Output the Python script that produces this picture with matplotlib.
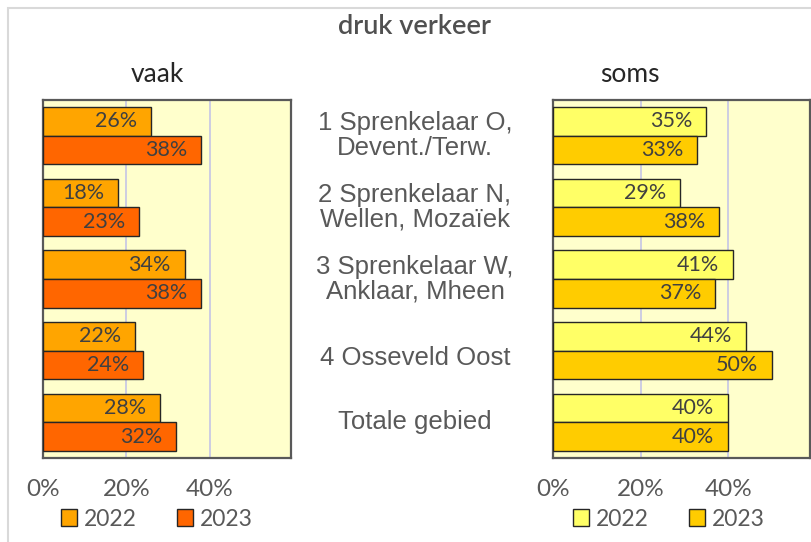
"""Druk verkeer: vaak vs soms, 2022 vs 2023, per wijk."""
import matplotlib
matplotlib.use("Agg")
import matplotlib.pyplot as plt
from matplotlib.patches import Patch, Rectangle
from matplotlib.transforms import blended_transform_factory
import numpy as np

categories = [
    "1 Sprenkelaar O,\nDevent./Terw.",
    "2 Sprenkelaar N,\nWellen, Mozaïek",
    "3 Sprenkelaar W,\nAnklaar, Mheen",
    "4 Osseveld Oost",
    "Totale gebied",
]
years = ["2022", "2023"]
vaak_2022 = [26, 18, 34, 22, 28]
vaak_2023 = [38, 23, 38, 24, 32]
soms_2022 = [35, 29, 41, 44, 40]
soms_2023 = [33, 38, 37, 50, 40]
xticks = [0, 20, 40]

W, H = 811, 542
fig = plt.figure(figsize=(W / 100, H / 100), dpi=100)
fig.patch.set_facecolor("white")

# light frame round the whole chart (right/bottom edges fall outside the crop)
fig.patches.append(Rectangle((8 / W, -0.1), 1.2, 1 - 8 / H + 0.1,
                             transform=fig.transFigure, fill=False,
                             edgecolor="#d9d9d9", linewidth=1.5))

TXT = "#595959"
ax_l = fig.add_axes([43 / W, 1 - 458 / H, 248 / W, 358 / H])
ax_r = fig.add_axes([553 / W, 1 - 458 / H, 257 / W, 358 / H])


def draw_panel(ax, v22, v23, colors, xmax):
    y = np.arange(len(categories))
    ax.set_facecolor("#ffffcc")
    for vals, off, col in [(v22, -0.2, colors[0]), (v23, 0.2, colors[1])]:
        bars = ax.barh(y + off, vals, height=0.4, color=col,
                       edgecolor="#262626", linewidth=1.0, zorder=3)
        for b, v in zip(bars, vals):
            ax.annotate(f"{v}%", (b.get_width(), b.get_y() + b.get_height() / 2),
                        xytext=(-10, 0), textcoords="offset points",
                        ha="right", va="center", fontsize=15.5,
                        family="Lato", color="#404040", zorder=4)
    ax.set_ylim(len(categories) - 0.5, -0.5)
    ax.set_xlim(0, xmax)
    ax.set_yticks([])
    ax.set_xticks(xticks)
    ax.set_xticklabels([f"{t}%" for t in xticks], family="Lato",
                       fontsize=17.5, color=TXT)
    ax.tick_params(axis="x", length=0, pad=15)
    for t in xticks[1:]:
        ax.axvline(t, color="#c9c9e4", linewidth=1.3, zorder=1)
    for s in ax.spines.values():
        s.set_color("#595959")
        s.set_linewidth(1.6)


draw_panel(ax_l, vaak_2022, vaak_2023, ["#ffa500", "#ff6600"], 59.5)
draw_panel(ax_r, soms_2022, soms_2023, ["#ffff66", "#ffcc00"], 58.7)

# category labels in the gap between panels
tr = blended_transform_factory(fig.transFigure, ax_l.transData)
for i, c in enumerate(categories):
    ax_l.text(415 / W, i + (0.1 if "\n" not in c and i < 4 else 0), c,
              transform=tr, ha="center", va="center",
              family="Liberation Sans", fontsize=18.5, color=TXT,
              linespacing=1.05)

fig.text(415 / W, 1 - 26 / H, "druk verkeer", ha="center", va="center",
         family="Lato", fontsize=19.5, fontweight="semibold", color="#505050")
fig.text(157 / W, 1 - 75 / H, "vaak", ha="center", va="center",
         family="Lato", fontsize=19, color="#262626")
fig.text(630 / W, 1 - 75 / H, "soms", ha="center", va="center",
         family="Lato", fontsize=19, color="#262626")

for cols, xc in [(["#ffa500", "#ff6600"], 157), (["#ffff66", "#ffcc00"], 669)]:
    handles = [Patch(facecolor=c, edgecolor="#262626", linewidth=1.0) for c in cols]
    fig.legend(handles, years, loc="center", bbox_to_anchor=(xc / W, 1 - 519 / H),
               ncol=2, frameon=False, handlelength=0.7, handleheight=0.7,
               handletextpad=0.3, columnspacing=1.75,
               prop={"family": "Lato", "size": 16.5}, labelcolor=TXT)

fig.savefig("out.png", dpi=100)
